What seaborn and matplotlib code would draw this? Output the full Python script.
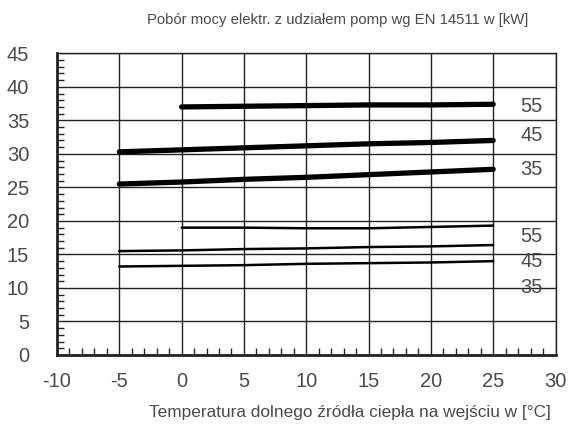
import numpy as np
import pandas as pd
import matplotlib
matplotlib.use("Agg")
import matplotlib.pyplot as plt
import seaborn as sns
from matplotlib.ticker import MultipleLocator

# Source temperature [°C]
temps_full = [-5, 0, 5, 10, 15, 20, 25]
temps_short = [0, 5, 10, 15, 20, 25]

# Electric power consumption [kW], thick curves (upper group)
thick_55 = [37.0, 37.1, 37.2, 37.3, 37.3, 37.4]
thick_45 = [30.3, 30.6, 30.9, 31.2, 31.5, 31.7, 32.0]
thick_35 = [25.5, 25.8, 26.2, 26.5, 26.9, 27.3, 27.7]

# Thin curves (lower group)
thin_55 = [19.0, 19.0, 18.9, 18.9, 19.1, 19.3]
thin_45 = [15.5, 15.6, 15.8, 15.9, 16.1, 16.2, 16.4]
thin_35 = [13.2, 13.3, 13.4, 13.6, 13.7, 13.8, 14.0]

# Curve labels (supply temperature) and their anchor heights
label_texts = ["55", "45", "35", "55", "45", "35"]
label_y = [37.1, 32.8, 27.6, 17.7, 14.0, 10.1]

title = "Pobór mocy elektr. z udziałem pomp wg EN 14511 w [kW]"
xlabel = "Temperatura dolnego źródła ciepła na wejściu w [°C]"

rows = []
for name, xs, ys, w in [
    ("t55", temps_short, thick_55, "thick"),
    ("t45", temps_full, thick_45, "thick"),
    ("t35", temps_full, thick_35, "thick"),
    ("n55", temps_short, thin_55, "thin"),
    ("n45", temps_full, thin_45, "thin"),
    ("n35", temps_full, thin_35, "thin"),
]:
    for x, y in zip(xs, ys):
        rows.append({"series": name, "temp": x, "power": y, "width": w})
df = pd.DataFrame(rows)

sns.set_style("white")
plt.rcParams["font.family"] = ["Liberation Sans", "DejaVu Sans"]
plt.rcParams["axes.unicode_minus"] = False
txt = "#4a4a4a"

fig = plt.figure(figsize=(5.71, 4.37), dpi=100)
ax = fig.add_axes([57 / 571, 1 - 355 / 437, (555.5 - 57) / 571, (355 - 53.3) / 437])

for name, sub in df.groupby("series", sort=False):
    lw = 3.8 if sub["width"].iloc[0] == "thick" else 1.8
    sns.lineplot(data=sub, x="temp", y="power", ax=ax, color="black",
                 linewidth=lw, solid_capstyle="round", legend=False, zorder=3)

for t, y in zip(label_texts, label_y):
    ax.text(28.1, y, t, ha="center", va="center", fontsize=14.5, color=txt)

ax.set_xlim(-10, 30)
ax.set_ylim(0, 45)
ax.xaxis.set_major_locator(MultipleLocator(5))
ax.yaxis.set_major_locator(MultipleLocator(5))
ax.xaxis.set_minor_locator(MultipleLocator(1))
ax.yaxis.set_minor_locator(MultipleLocator(1))
ax.grid(True, which="major", color="#222222", linewidth=1.0)
ax.tick_params(axis="both", which="major", length=0, labelsize=14.5,
               labelcolor=txt)
ax.tick_params(axis="y", which="major", pad=20)
ax.tick_params(axis="x", which="major", pad=12)
ax.tick_params(axis="both", which="minor", direction="in", length=5,
               width=1, color="#222222", left=True, bottom=True)
for side in ["top", "right"]:
    ax.spines[side].set_linewidth(1.0)
    ax.spines[side].set_color("#222222")
for side in ["left", "bottom"]:
    ax.spines[side].set_linewidth(2.0)
    ax.spines[side].set_color("#222222")
ax.set_xlabel("")
ax.set_ylabel("")

fig.text(338 / 571, 1 - 20 / 437, title, ha="center", va="center",
         fontsize=10.7, color=txt)
fig.text(350 / 571, 1 - 413 / 437, xlabel, ha="center", va="center",
         fontsize=12.4, color=txt)

fig.savefig("out.png", dpi=100)
